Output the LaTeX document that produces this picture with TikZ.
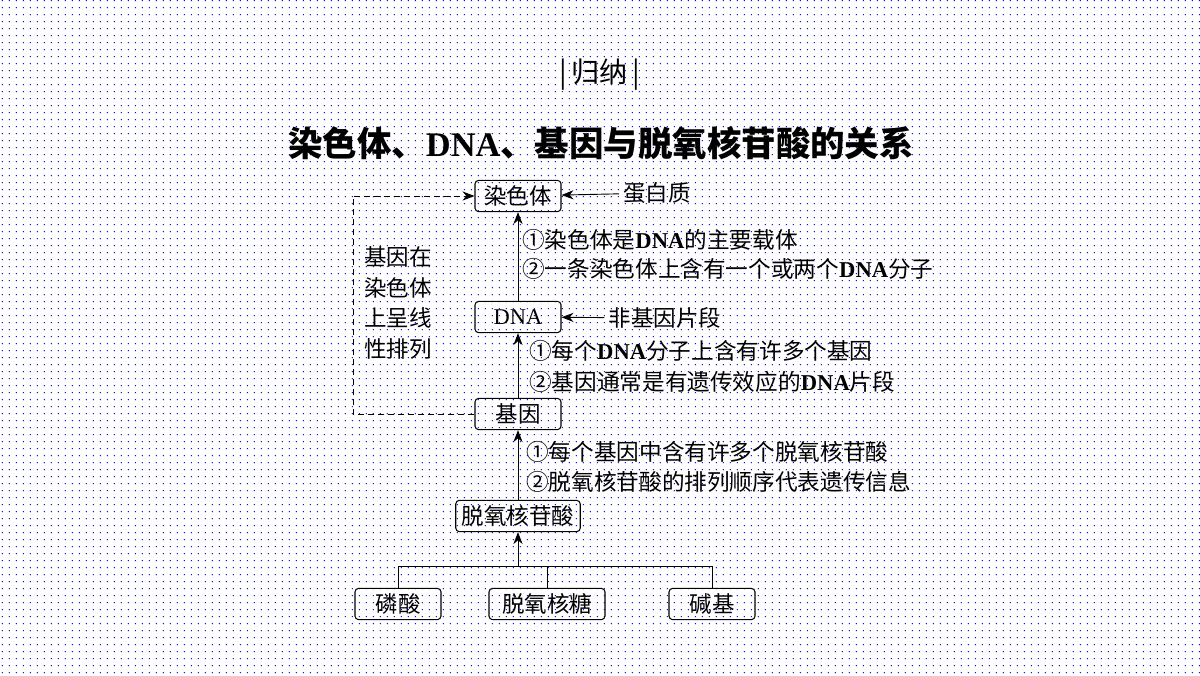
\documentclass[tikz,border=0pt]{standalone}
\usepackage{fontspec}
\setmainfont{Noto Sans CJK SC}
\newfontfamily\tnr{Liberation Serif}
\usetikzlibrary{arrows.meta,patterns.meta}

\tikzdeclarepattern{name=bgdots, type=uncolored,
  bounding box={(0pt,0pt) and (5.2pt,5.2pt)}, tile size={(5.2pt,5.2pt)},
  code={\fill (2.6pt,2.6pt) circle (0.55pt);}}

\begin{document}
\begin{tikzpicture}[x=0.25mm, y=-0.25mm,
    box/.style={draw, rounded corners=2.5pt, line width=0.75pt, minimum height=7.8mm,
      minimum width=21.5mm, inner xsep=1.5mm, inner ysep=0pt, font=\fontsize{16}{18}\selectfont},
    lbl/.style={anchor=west, inner sep=0pt, font=\fontsize{16.1}{18}\selectfont},
    side/.style={inner sep=1mm, font=\fontsize{16}{18}\selectfont},
    arr/.style={-{Stealth[length=3mm,width=2.3mm]}, line width=0.65pt}]
% background
\fill[white] (0,0) rectangle (1200,675);
\fill[pattern=bgdots, pattern color=blue!85!black] (0,0) rectangle (1200,675);

\node[font=\fontsize{20}{24}\selectfont] (sec) at (600,75) {|\,归纳\,|};
\node[font=\fontsize{24.5}{28}\selectfont\bfseries] (title) at (601,143)
  {染色体、{\tnr DNA}、基因与脱氧核苷酸的关系};

% main column
\node[box] (chrom) at (518,196) {染色体};
\node[box] (dna) at (518,317) {\tnr DNA};
\node[box] (gene) at (518,414) {基因};
\node[box] (nucl) at (518,516) {脱氧核苷酸};
\node[box] (phos) at (398,604) {磷酸};
\node[box, minimum width=29mm] (sugar) at (547,604) {脱氧核糖};
\node[box] (base) at (712,604) {碱基};

\node[side] (prot) at (657,193) {蛋白质};
\node[side] (nongene) at (665,318) {非基因片段};
\node[inner sep=0pt, align=left, font=\fontsize{16}{22}\selectfont] (note) at (398,303)
  {基因在\\染色体\\上呈线\\性排列};

\node[lbl] (a1) at (522,240) {①染色体是{\tnr\bfseries DNA}的主要载体};
\node[lbl] (a2) at (522,269) {②一条染色体上含有一个或两个{\tnr\bfseries DNA}分子};
\node[lbl] (b1) at (529,351) {①每个{\tnr\bfseries DNA}分子上含有许多个基因};
\node[lbl] (b2) at (529,382) {②基因通常是有遗传效应的{\tnr\bfseries DNA}片段};
\node[lbl] (c1) at (526,452) {①每个基因中含有许多个脱氧核苷酸};
\node[lbl] (c2) at (526,482) {②脱氧核苷酸的排列顺序代表遗传信息};

% connectors
\draw[arr] (dna) -- (chrom);
\draw[arr] (gene) -- (dna);
\draw[arr] (nucl) -- (gene);
\coordinate (bus) at (518,566);
\draw[arr] (bus) -- (nucl);
\draw[line width=0.65pt] (phos.north) |- (base.north |- bus) -- (base.north);
\draw[line width=0.65pt] (sugar.north) -- (sugar.north |- bus);
\draw[arr] (prot) -- (chrom);
\draw[arr] (nongene) -- (dna);
\coordinate (corner) at (353,196);
\draw[arr, dash pattern=on 1.5mm off 1mm] (gene.west) -| (corner) -- (chrom.west);
\end{tikzpicture}
\end{document}
